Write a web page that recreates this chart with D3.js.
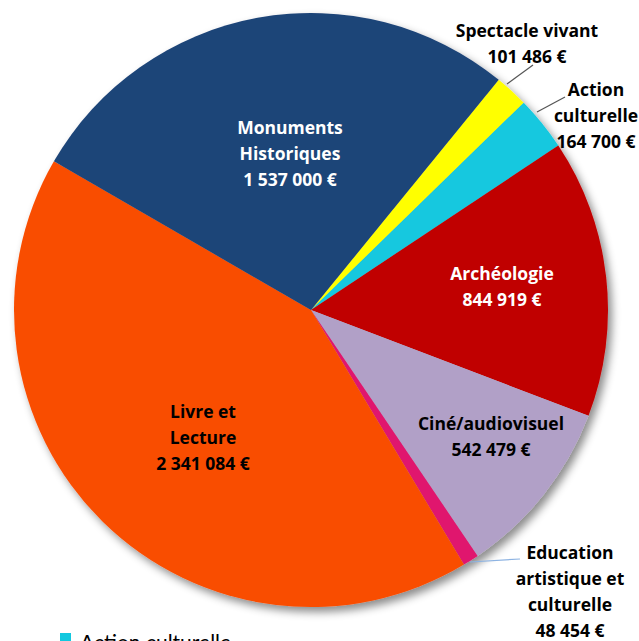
<!DOCTYPE html>
<html>
<head>
<meta charset="utf-8">
<script src="https://cdn.jsdelivr.net/npm/d3@7"></script>
<style>
  body { margin: 0; background: #fff; }
  svg { display: block; font-family: "Open Sans", Lato, sans-serif; }
</style>
</head>
<body>
<div id="chart"></div>
<script>
// slices, clockwise from the yellow one
const categories = ["Spectacle vivant", "Action culturelle", "Archéologie", "Ciné/audiovisuel",
  "Education artistique et culturelle", "Livre et Lecture", "Monuments Historiques"];
const values = [101486, 164700, 844919, 542479, 48454, 2341084, 1537000];
const colors = ["#ffff00", "#12c8df", "#c00000", "#b1a0c7", "#e0146e", "#f94d02", "#1f4478"];
const valueLabels = ["101 486 €", "164 700 €", "844 919 €", "542 479 €", "48 454 €", "2 341 084 €", "1 537 000 €"];

// label lines for each slice (wrapped as in the reference)
const labelLines = [
  ["Spectacle vivant"],
  ["Action", "culturelle"],
  ["Archéologie"],
  ["Ciné/audiovisuel"],
  ["Education", "artistique et", "culturelle"],
  ["Livre et", "Lecture"],
  ["Monuments", "Historiques"]
];

const width = 639, height = 641;
const cx = 311, cy = 310, radius = 297;
const startAngle = 39.2 * Math.PI / 180;

const svg = d3.select("#chart").append("svg")
  .attr("width", width).attr("height", height);

const defs = svg.append("defs");
const filt = defs.append("filter").attr("id", "shadow")
  .attr("x", "-10%").attr("y", "-10%").attr("width", "120%").attr("height", "120%");
filt.append("feDropShadow").attr("dx", 4).attr("dy", 5)
  .attr("stdDeviation", 4).attr("flood-color", "#000").attr("flood-opacity", 0.45);

const pie = d3.pie().sort(null).value((d) => d)
  .startAngle(startAngle).endAngle(startAngle + 2 * Math.PI);
const arcs = pie(values);
const arc = d3.arc().innerRadius(0).outerRadius(radius);

const g = svg.append("g").attr("transform", `translate(${cx},${cy})`);

g.append("g").attr("filter", "url(#shadow)")
  .selectAll("path")
  .data(arcs)
  .join("path")
  .attr("d", arc)
  .attr("fill", (d, i) => colors[i]);

// label anchors (text centre, first baseline) and leader lines
const labelPos = [
  { x: 527, y: 37, color: "#000", line: [[507, 84], [533, 65]] },
  { x: 596, y: 96, color: "#000", line: [[537, 112], [565, 97]] },
  { x: 502, y: 280, color: "#fff" },
  { x: 491, y: 430, color: "#000" },
  { x: 570, y: 559, color: "#000", line: [[470, 562], [520, 559]], lineColor: "#8db3e2" },
  { x: 203, y: 418, color: "#000" },
  { x: 290, y: 134, color: "#fff" }
];
const lineH = 26;

labelPos.forEach((p, i) => {
  if (p.line) {
    svg.append("path")
      .attr("d", d3.line()(p.line))
      .attr("stroke", p.lineColor || "#555")
      .attr("stroke-width", 1.2)
      .attr("fill", "none");
  }
  const lines = labelLines[i].concat([valueLabels[i]]);
  const t = svg.append("text")
    .attr("text-anchor", "middle")
    .attr("font-size", 17.5)
    .attr("font-weight", "bold")
    .attr("fill", p.color);
  lines.forEach((s, j) => {
    t.append("tspan").attr("x", p.x).attr("y", p.y + j * lineH).text(s);
  });
});

// legend (cut by the bottom edge)
const legend = svg.append("g").attr("transform", "translate(60,633)");
legend.append("rect").attr("width", 11).attr("height", 11).attr("fill", colors[1]);
legend.append("text").attr("x", 20).attr("y", 17)
  .attr("font-family", "Lato, sans-serif")
  .attr("font-size", 21).attr("fill", "#000")
  .text("Action culturelle");
</script>
</body>
</html>
